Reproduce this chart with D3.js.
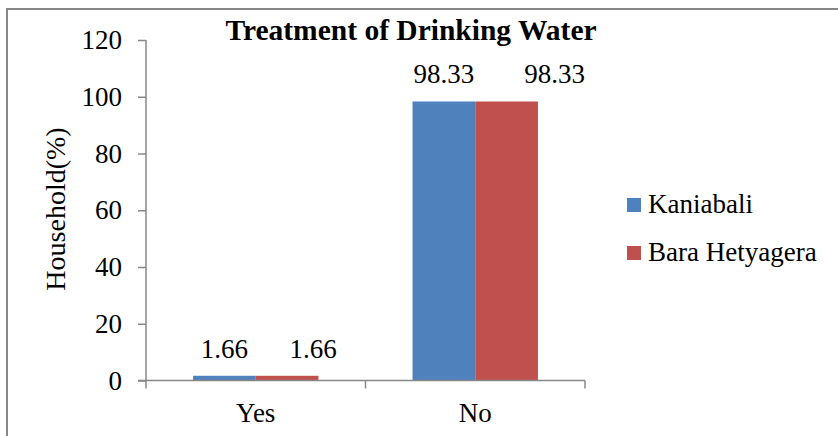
<!DOCTYPE html>
<html>
<head>
<meta charset="utf-8">
<script src="https://cdn.jsdelivr.net/npm/d3@7"></script>
<style>
  html, body { margin: 0; padding: 0; background: #fff; }
  svg { display: block; }
  svg text { font-family: "Liberation Serif", "Times New Roman", serif !important; fill: #000; }
</style>
</head>
<body>
<svg id="chart" width="838" height="436" font-family="Liberation Serif"></svg>
<script>
const categories = ["Yes", "No"];
const seriesNames = ["Kaniabali", "Bara Hetyagera"];
const kaniabali = [1.66, 98.33];
const baraHetyagera = [1.66, 98.33];
const yTicks = [0, 20, 40, 60, 80, 100, 120];
const colors = ["#4F81BD", "#C0504D"];
const chartTitle = "Treatment of Drinking Water";
const yTitle = "Household(%)";

(function () {
const svg = d3.select("#chart");
const W = 838, H = 436;
const FS = 27;
// manual data-label nudges (as placed in the original chart), [series][category]
const labelNudge = [[0, 0], [26, 48]];

svg.append("rect")
  .attr("x", 7).attr("y", 9)
  .attr("width", W + 10).attr("height", H + 10)
  .attr("fill", "#fff").attr("stroke", "#878787").attr("stroke-width", 2);

const pLeft = 146, pRight = 585, pTop = 40, pBottom = 380.5;

const x = d3.scaleBand().domain(categories).range([pLeft, pRight]).paddingInner(0).paddingOuter(0);
const y = d3.scaleLinear().domain([0, 120]).range([pBottom, pTop]);

const seriesData = [kaniabali, baraHetyagera];
const groupW = x.bandwidth() * 2 / 3.5;
const x1 = d3.scaleBand().domain(seriesNames).range([0, groupW]).padding(0);

const g = svg.append("g");
categories.forEach((c, i) => {
  const gx = x(c) + (x.bandwidth() - groupW) / 2;
  seriesNames.forEach((s, j) => {
    const v = seriesData[j][i];
    g.append("rect")
      .attr("x", gx + x1(s))
      .attr("y", y(v))
      .attr("width", x1.bandwidth())
      .attr("height", y(0) - y(v))
      .attr("fill", colors[j]);
    g.append("text")
      .attr("x", gx + x1(s) + x1.bandwidth() / 2 + labelNudge[j][i])
      .attr("y", y(v) - 18)
      .attr("text-anchor", "middle")
      .attr("font-size", FS)
      .text(v.toFixed(2));
  });
});

const yAxis = d3.axisLeft(y).tickValues(yTicks).tickSize(8).tickPadding(16).tickFormat(d3.format("d"));
const ya = svg.append("g").attr("transform", `translate(${pLeft},0)`).call(yAxis)
  .attr("font-family", "Liberation Serif").attr("font-size", FS);
ya.select(".domain").attr("stroke", "#878787").attr("stroke-width", 1.5).attr("d", `M0,${pTop}V${pBottom}`);
ya.selectAll(".tick line").attr("stroke", "#878787").attr("stroke-width", 1.5);
ya.selectAll(".tick text").attr("font-size", FS).attr("fill", "#000");

const xa = svg.append("g").attr("transform", `translate(0,${pBottom})`);
xa.append("line").attr("x1", pLeft - 8).attr("x2", pRight).attr("y1", 0).attr("y2", 0)
  .attr("stroke", "#878787").attr("stroke-width", 1.5);
const bounds = [pLeft, ...categories.map(c => x(c) + x.bandwidth())];
xa.selectAll(".xt").data(bounds).enter().append("line")
  .attr("x1", d => d).attr("x2", d => d).attr("y1", 0).attr("y2", 8)
  .attr("stroke", "#878787").attr("stroke-width", 1.5);
xa.selectAll(".xl").data(categories).enter().append("text")
  .attr("x", d => x(d) + x.bandwidth() / 2)
  .attr("y", 41)
  .attr("text-anchor", "middle")
  .attr("font-size", FS)
  .text(d => d);

svg.append("text")
  .attr("x", 411).attr("y", 40)
  .attr("text-anchor", "middle")
  .attr("font-size", 29.5).attr("font-weight", "bold")
  .text(chartTitle);

svg.append("text")
  .attr("transform", `translate(65,209) rotate(-90)`)
  .attr("text-anchor", "middle")
  .attr("font-size", 28)
  .text(yTitle);

const lg = svg.append("g");
seriesNames.forEach((s, j) => {
  const cy = 205 + j * 48;
  lg.append("rect").attr("x", 627).attr("y", cy - 7).attr("width", 14).attr("height", 14).attr("fill", colors[j]);
  lg.append("text").attr("x", 648).attr("y", cy + 8).attr("font-size", FS).text(s);
});
})();
</script>
</body>
</html>
